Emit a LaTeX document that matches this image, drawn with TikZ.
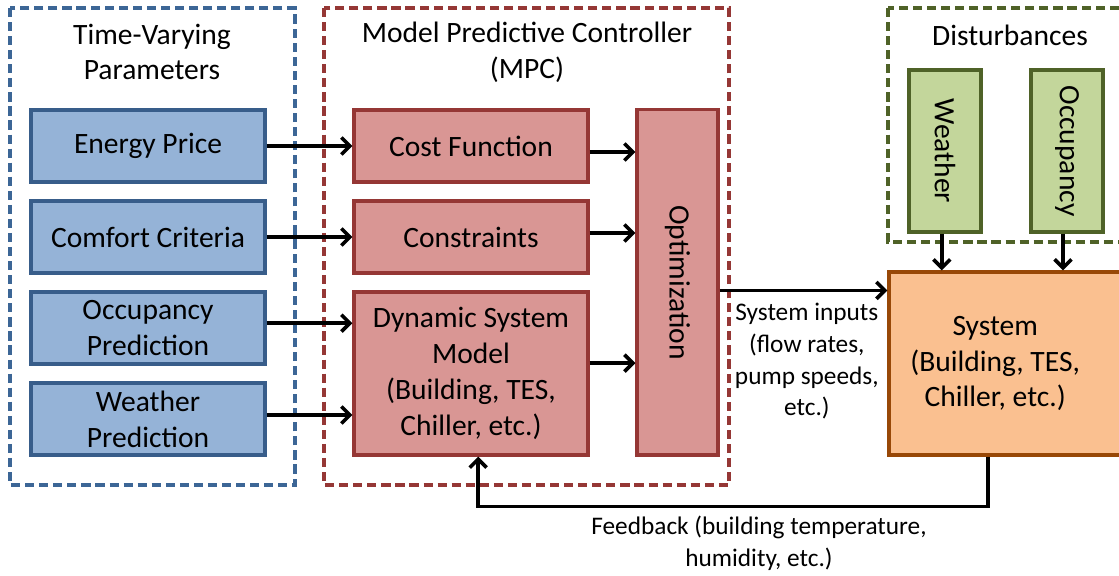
\documentclass[tikz,border=0pt]{standalone}
\usepackage{fontspec}
\setmainfont{Carlito}
\usetikzlibrary{arrows.meta,positioning}
\definecolor{paramfill}{RGB}{149,179,215}
\definecolor{paramedge}{RGB}{56,93,138}
\definecolor{paramframe}{RGB}{60,102,150}
\definecolor{mpcfill}  {RGB}{217,150,148}
\definecolor{mpcedge}  {RGB}{149,55,53}
\definecolor{distfill} {RGB}{195,214,155}
\definecolor{distedge} {RGB}{79,98,40}
\definecolor{sysfill}  {RGB}{250,192,144}
\definecolor{sysedge}  {RGB}{152,72,7}

\begin{document}
\begin{tikzpicture}[
  x=0.025cm, y=-0.025cm, >={Straight Barb[length=6pt,width=12pt]},
  every node/.style={font=\fontsize{21}{25.5}\selectfont, align=center, inner sep=0pt},
  frame/.style={line width=2.4pt, dash pattern=on 6.5pt off 3.5pt},
  param/.style={draw=paramedge, fill=paramfill, line width=2.2pt,
    minimum width=5.85cm, minimum height=1.8cm},
  mpcbox/.style={draw=mpcedge, fill=mpcfill, line width=2.2pt,
    minimum width=5.85cm, minimum height=1.8cm},
  distbox/.style={draw=distedge, fill=distfill, line width=2.2pt,
    minimum width=1.8cm, minimum height=4.05cm},
  flow/.style={->, line width=2.6pt},
  note/.style={font=\fontsize{18}{22.5}\selectfont},
]
\useasboundingbox (0,0) rectangle (1119,576);
\clip (0,0) rectangle (1119,576);

% Dashed group frames
\draw[frame, draw=paramframe] (10,8) rectangle (295,485);
\draw[frame, draw=mpcedge]    (324,8) rectangle (729,485);
\draw[frame, draw=distedge]   (888,8) rectangle (1135,242);

% Frame titles
\node (partitle) at (152,52)  {Time-Varying\\Parameters};
\node (mpctitle) at (527,52)  {Model Predictive Controller\\(MPC)};
\node (disttitle) at (1010,35) {Disturbances};

% Time-varying parameters
\node[param] (price)   at (148,146) {Energy Price};
\node[param] (comfort) at (148,237) {Comfort Criteria};
\node[param] (occpred) at (148,328) {Occupancy\\Prediction};
\node[param] (wthpred) at (148,419) {Weather\\Prediction};

% MPC blocks
\node[mpcbox] (cost)  at (471,146) {Cost Function};
\node[mpcbox] (cons)  at (471,237) {Constraints};
\node[mpcbox, minimum height=4.075cm] (dyn) at (471,373.5)
  {Dynamic System\\Model\\(Building, TES,\\Chiller, etc.)};
\node[mpcbox, minimum width=2.025cm, minimum height=8.625cm,
  label={[rotate=-90]center:Optimization}] (opt) at (677.5,282.5) {};

% Disturbances
\node[distbox, label={[rotate=-90]center:Weather}]   (weather) at (945,151) {};
\node[distbox, label={[rotate=-90]center:Occupancy}] (occ)     at (1067,151) {};

% Plant
\node[draw=sysedge, fill=sysfill, line width=2.2pt,
  minimum width=6.15cm, minimum height=4.575cm,
  label={[xshift=-0.42cm]center:System\\(Building, TES,\\Chiller, etc.)}]
  (sys) at (1012,363.5) {};

% Inputs into the MPC
\draw[flow] (price) -- (cost);
\draw[flow] (comfort) -- (cons);
\draw[flow] ([yshift=0.12cm]occpred.east) -- ([yshift=0.12cm]occpred.east -| dyn.west);
\draw[flow] ([yshift=0.1cm]wthpred.east) -- ([yshift=0.1cm]wthpred.east -| dyn.west);

% Into the optimizer
\draw[flow] ([yshift=-0.15cm]cost.east) -- ([yshift=-0.15cm]cost.east -| opt.west);
\draw[flow] ([yshift=0.1cm]cons.east) -- ([yshift=0.1cm]cons.east -| opt.west);
\draw[flow] ([yshift=0.26cm]dyn.east) -- ([yshift=0.26cm]dyn.east -| opt.west);

% Control action to the plant
\draw[flow] ([yshift=-0.5cm]opt.east |- sys.north) -- ([yshift=-0.5cm]sys.north west)
  node[note, pos=0.52, below=8pt] (inlabel)
  {System inputs\\(flow rates,\\pump speeds,\\etc.)};

% Disturbances acting on the plant
\draw[flow] ([xshift=-0.08cm]weather.south) -- ([xshift=-0.08cm]weather.south |- sys.north);
\draw[flow] ([xshift=-0.1cm]occ.south) -- ([xshift=-0.1cm]occ.south |- sys.north);

% Feedback loop
\draw[flow] ([xshift=-0.6cm]sys.south) -- ++(0,50) -| ([xshift=0.18cm]dyn.south);
\node[note] (fblabel) at (759,543) {Feedback (building temperature,\\humidity, etc.)};

\end{tikzpicture}
\end{document}
